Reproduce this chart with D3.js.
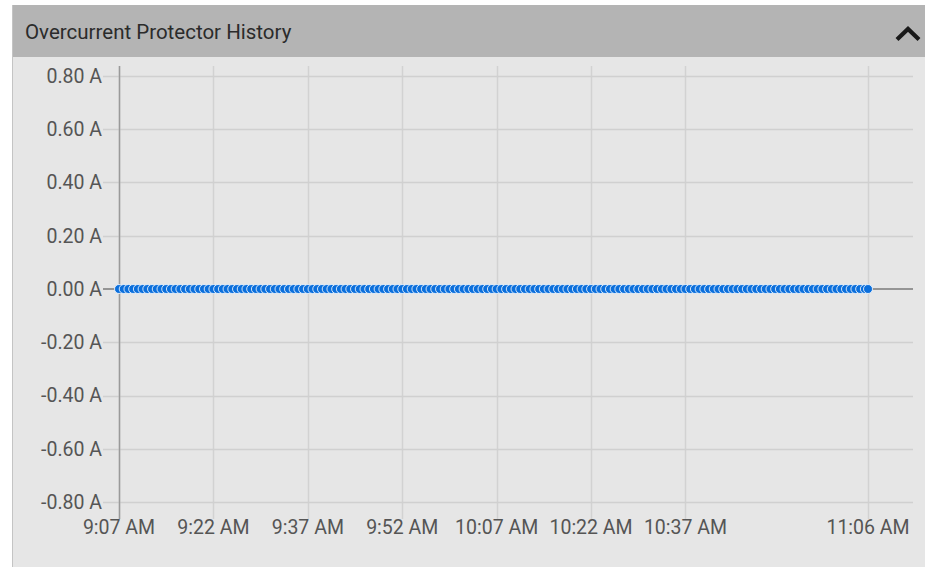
<!DOCTYPE html>
<html>
<head>
<meta charset="utf-8">
<script src="https://cdn.jsdelivr.net/npm/d3@7"></script>
<style>
  html, body { margin: 0; padding: 0; background: #ffffff; }
  svg { display: block; font-family: Roboto, "Noto Sans", sans-serif; }
</style>
</head>
<body>
<svg id="chart" width="925" height="567"></svg>
<script>
// Panel title
const panelTitle = "Overcurrent Protector History";

// Sample timestamps (h:mm:ss) of the overcurrent protector readings
const sampleTimes = [
  "9:07:00","9:07:45","9:08:30","9:09:15","9:10:00","9:10:45","9:11:30","9:12:15",
  "9:13:00","9:13:45","9:14:30","9:15:15","9:16:00","9:16:45","9:17:30","9:18:15",
  "9:19:00","9:19:45","9:20:30","9:21:15","9:22:00","9:22:45","9:23:30","9:24:15",
  "9:25:00","9:25:45","9:26:30","9:27:15","9:28:00","9:28:45","9:29:30","9:30:15",
  "9:31:00","9:31:45","9:32:30","9:33:15","9:34:00","9:34:45","9:35:30","9:36:15",
  "9:37:00","9:37:45","9:38:30","9:39:15","9:40:00","9:40:45","9:41:30","9:42:15",
  "9:43:00","9:43:45","9:44:30","9:45:15","9:46:00","9:46:45","9:47:30","9:48:15",
  "9:49:00","9:49:45","9:50:30","9:51:15","9:52:00","9:52:45","9:53:30","9:54:15",
  "9:55:00","9:55:45","9:56:30","9:57:15","9:58:00","9:58:45","9:59:30","10:00:15",
  "10:01:00","10:01:45","10:02:30","10:03:15","10:04:00","10:04:45","10:05:30","10:06:15",
  "10:07:00","10:07:45","10:08:30","10:09:15","10:10:00","10:10:45","10:11:30","10:12:15",
  "10:13:00","10:13:45","10:14:30","10:15:15","10:16:00","10:16:45","10:17:30","10:18:15",
  "10:19:00","10:19:45","10:20:30","10:21:15","10:22:00","10:22:45","10:23:30","10:24:15",
  "10:25:00","10:25:45","10:26:30","10:27:15","10:28:00","10:28:45","10:29:30","10:30:15",
  "10:31:00","10:31:45","10:32:30","10:33:15","10:34:00","10:34:45","10:35:30","10:36:15",
  "10:37:00","10:37:45","10:38:30","10:39:15","10:40:00","10:40:45","10:41:30","10:42:15",
  "10:43:00","10:43:45","10:44:30","10:45:15","10:46:00","10:46:45","10:47:30","10:48:15",
  "10:49:00","10:49:45","10:50:30","10:51:15","10:52:00","10:52:45","10:53:30","10:54:15",
  "10:55:00","10:55:45","10:56:30","10:57:15","10:58:00","10:58:45","10:59:30","11:00:15",
  "11:01:00","11:01:45","11:02:30","11:03:15","11:04:00","11:04:45","11:05:30","11:06:00"
];

// Measured current (A) at each sample time
const currentValues = [
  0,0,0,0,0,0,0,0, 0,0,0,0,0,0,0,0, 0,0,0,0,0,0,0,0, 0,0,0,0,0,0,0,0,
  0,0,0,0,0,0,0,0, 0,0,0,0,0,0,0,0, 0,0,0,0,0,0,0,0, 0,0,0,0,0,0,0,0,
  0,0,0,0,0,0,0,0, 0,0,0,0,0,0,0,0, 0,0,0,0,0,0,0,0, 0,0,0,0,0,0,0,0,
  0,0,0,0,0,0,0,0, 0,0,0,0,0,0,0,0, 0,0,0,0,0,0,0,0, 0,0,0,0,0,0,0,0,
  0,0,0,0,0,0,0,0, 0,0,0,0,0,0,0,0, 0,0,0,0,0,0,0,0, 0,0,0,0,0,0,0,0
];

// Axis ticks
const timeTicks = ["9:07","9:22","9:37","9:52","10:07","10:22","10:37","11:06"];
const currentTicks = [0.8, 0.6, 0.4, 0.2, 0, -0.2, -0.4, -0.6, -0.8];
const currentDomain = [-0.8, 0.8];

const W = 925, H = 567;
const svg = d3.select("#chart");

// Panel frame: grey header band and light body
const panelLeft = 12, headerTop = 5, headerBottom = 57;
svg.append("rect").attr("x", panelLeft).attr("y", headerBottom)
  .attr("width", W - panelLeft).attr("height", H - headerBottom).attr("fill", "#e6e6e6");
svg.append("rect").attr("x", panelLeft).attr("y", headerTop)
  .attr("width", W - panelLeft).attr("height", headerBottom - headerTop).attr("fill", "#b4b4b4");
svg.append("line").attr("x1", panelLeft + 0.5).attr("x2", panelLeft + 0.5)
  .attr("y1", headerTop).attr("y2", H).attr("stroke", "#c4c4c4").attr("stroke-width", 1);

svg.append("text").attr("x", 25).attr("y", 38.5)
  .attr("font-size", 20.5).attr("fill", "#2b2b2b").text(panelTitle);

// Collapse chevron
svg.append("path")
  .attr("d", "M897,39.5 L908,29 L919,39.5")
  .attr("fill", "none").attr("stroke", "#1a1a1a").attr("stroke-width", 4.2)
  .attr("stroke-linejoin", "miter").attr("stroke-linecap", "butt");

// Scales
const parseT = d3.timeParse("%H:%M:%S");
const parseTick = d3.timeParse("%H:%M");
const samples = sampleTimes.map((t, i) => ({ t: parseT(t.length === 7 ? "0" + t : t), v: currentValues[i] }));

const plot = { left: 119, right: 868, top: 76, bottom: 502, gridTop: 66, gridBottom: 519, gridLeft: 103, gridRight: 913 };

const x = d3.scaleTime()
  .domain([samples[0].t, samples[samples.length - 1].t])
  .range([plot.left, plot.right]);
const y = d3.scaleLinear().domain(currentDomain).range([plot.bottom, plot.top]);

const tickDates = timeTicks.map(s => parseTick(s.length === 4 ? "0" + s : s));
const fmtTime = d3.timeFormat("%-I:%M %p");
const fmtAmp = d => d3.format(".2f")(d).replace("\u2212", "-") + " A";

// Vertical grid lines
svg.append("g").selectAll("line").data(tickDates).join("line")
  .attr("x1", d => Math.round(x(d)) + 0.5).attr("x2", d => Math.round(x(d)) + 0.5)
  .attr("y1", plot.gridTop).attr("y2", plot.gridBottom)
  .attr("stroke", "#d2d2d2").attr("stroke-width", 1.5);

// Horizontal grid lines (with tick stubs to the left of the axis)
svg.append("g").selectAll("line").data(currentTicks.filter(d => d !== 0)).join("line")
  .attr("x1", plot.gridLeft).attr("x2", plot.gridRight)
  .attr("y1", d => Math.round(y(d)) + 0.5).attr("y2", d => Math.round(y(d)) + 0.5)
  .attr("stroke", "#d0d0d0").attr("stroke-width", 1.5);

// Left axis line
svg.append("line")
  .attr("x1", plot.left + 0.5).attr("x2", plot.left + 0.5)
  .attr("y1", plot.gridTop).attr("y2", plot.gridBottom)
  .attr("stroke", "#9a9a9a").attr("stroke-width", 1.5);

// Zero baseline
svg.append("line")
  .attr("x1", plot.gridLeft).attr("x2", plot.gridRight)
  .attr("y1", y(0)).attr("y2", y(0))
  .attr("stroke", "#7a7a7a").attr("stroke-width", 1.5);

// Y tick labels
svg.append("g").selectAll("text").data(currentTicks).join("text")
  .attr("x", 102).attr("y", d => y(d)).attr("dy", "0.35em")
  .attr("text-anchor", "end").attr("font-size", 19.5).attr("fill", "#555555")
  .text(fmtAmp);

// X tick labels
svg.append("g").selectAll("text").data(tickDates).join("text")
  .attr("x", d => x(d)).attr("y", 527.5).attr("dy", "0.35em")
  .attr("text-anchor", "middle").attr("font-size", 19.5).attr("fill", "#555555")
  .text(d => fmtTime(d));

// Readings
svg.append("g").selectAll("circle").data(samples).join("circle")
  .attr("cx", d => x(d.t)).attr("cy", d => y(d.v)).attr("r", 4.5)
  .attr("fill", "#0b6fdc").attr("stroke", "#ffffff").attr("stroke-width", 0.8);
</script>
</body>
</html>
